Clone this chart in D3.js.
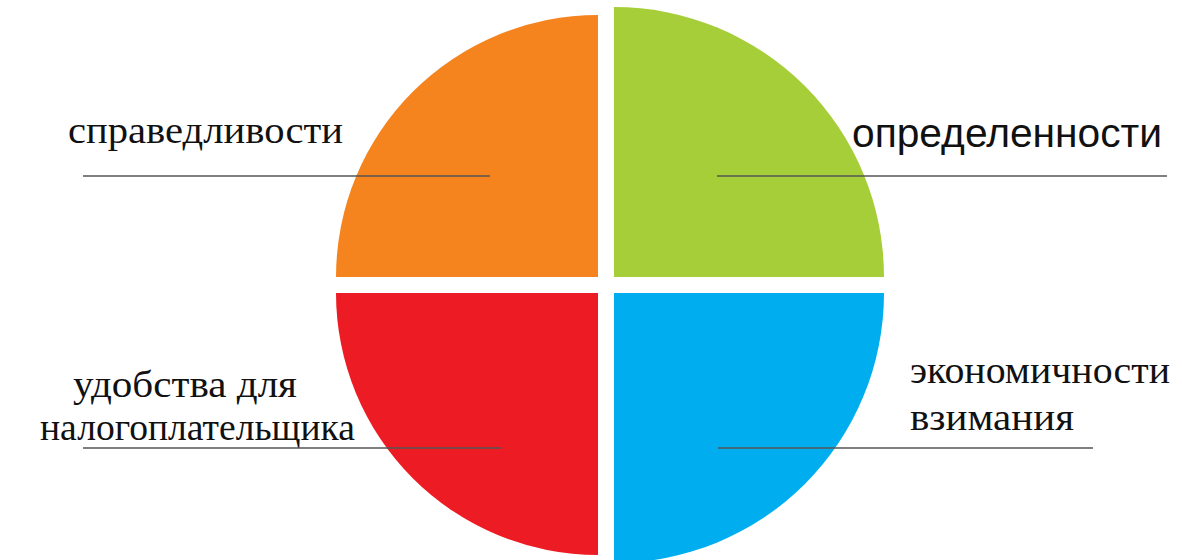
<!DOCTYPE html>
<html>
<head>
<meta charset="utf-8">
<script src="https://cdn.jsdelivr.net/npm/d3@7"></script>
<style>
  body { margin: 0; background: #fff; }
  svg { display: block; }
</style>
</head>
<body>
<div id="chart"></div>
<script>
// four principles, equal shares
var categories = ["определенности", "экономичности взимания", "удобства для налогоплательщика", "справедливости"];
var values = [1, 1, 1, 1];
var labelLines = [
  ["определенности"],
  ["экономичности", "взимания"],
  ["удобства для", "налогоплательщика"],
  ["справедливости"]
];

var colors = ["#a6ce39", "#00aeef", "#ed1c24", "#f5841f"];

var width = 1182, height = 560;
var cx = 606, cy = 285, gap = 16;
// the picture is a bit lopsided: left half is smaller than the right one
var radii = [270, 270, 262, 262];

var svg = d3.select("#chart").append("svg")
  .attr("width", width)
  .attr("height", height);

var pie = d3.pie().sort(null).value(d => d);
var arcs = pie(values);

var g = svg.append("g").attr("transform", `translate(${cx}, ${cy})`);

g.selectAll("path")
  .data(arcs)
  .enter()
  .append("path")
  .attr("transform", (d, i) => {
    var mid = (d.startAngle + d.endAngle) / 2;
    var sx = Math.sin(mid) > 0 ? 1 : -1;
    var sy = -Math.cos(mid) > 0 ? 1 : -1;
    return `translate(${sx * gap / 2}, ${sy * gap / 2})`;
  })
  .attr("d", (d, i) => d3.arc().innerRadius(0).outerRadius(radii[i])(d))
  .attr("fill", (d, i) => colors[i]);

// label layout: text lines + underline
var labelPos = [
  { xs: [852], y: [147], font: "Liberation Sans, Arial, sans-serif", size: 40, w: [310], line: [717, 1167, 176] },
  { xs: [910, 910], y: [383, 430], font: "Liberation Serif, Times New Roman, serif", size: 37, w: [260, 164], line: [718, 1093, 448] },
  { xs: [73, 40], y: [397, 440], font: "Liberation Serif, Times New Roman, serif", size: 37, w: [224, 315], line: [83, 502, 448] },
  { xs: [68], y: [143], font: "Liberation Serif, Times New Roman, serif", size: 37, w: [275], line: [83, 490, 176] }
];

var labels = svg.append("g");

labelLines.forEach((lines, i) => {
  var p = labelPos[i];
  lines.forEach((t, j) => {
    labels.append("text")
      .attr("x", p.xs[j])
      .attr("y", p.y[j])
      .attr("font-family", p.font)
      .attr("font-size", p.size)
      .attr("fill", "#111")
      .attr("textLength", p.w[j])
      .attr("lengthAdjust", "spacingAndGlyphs")
      .text(t);
  });
  labels.append("line")
    .attr("x1", p.line[0])
    .attr("x2", p.line[1])
    .attr("y1", p.line[2])
    .attr("y2", p.line[2])
    .attr("stroke", "#555")
    .attr("stroke-width", 1.5);
});
</script>
</body>
</html>
